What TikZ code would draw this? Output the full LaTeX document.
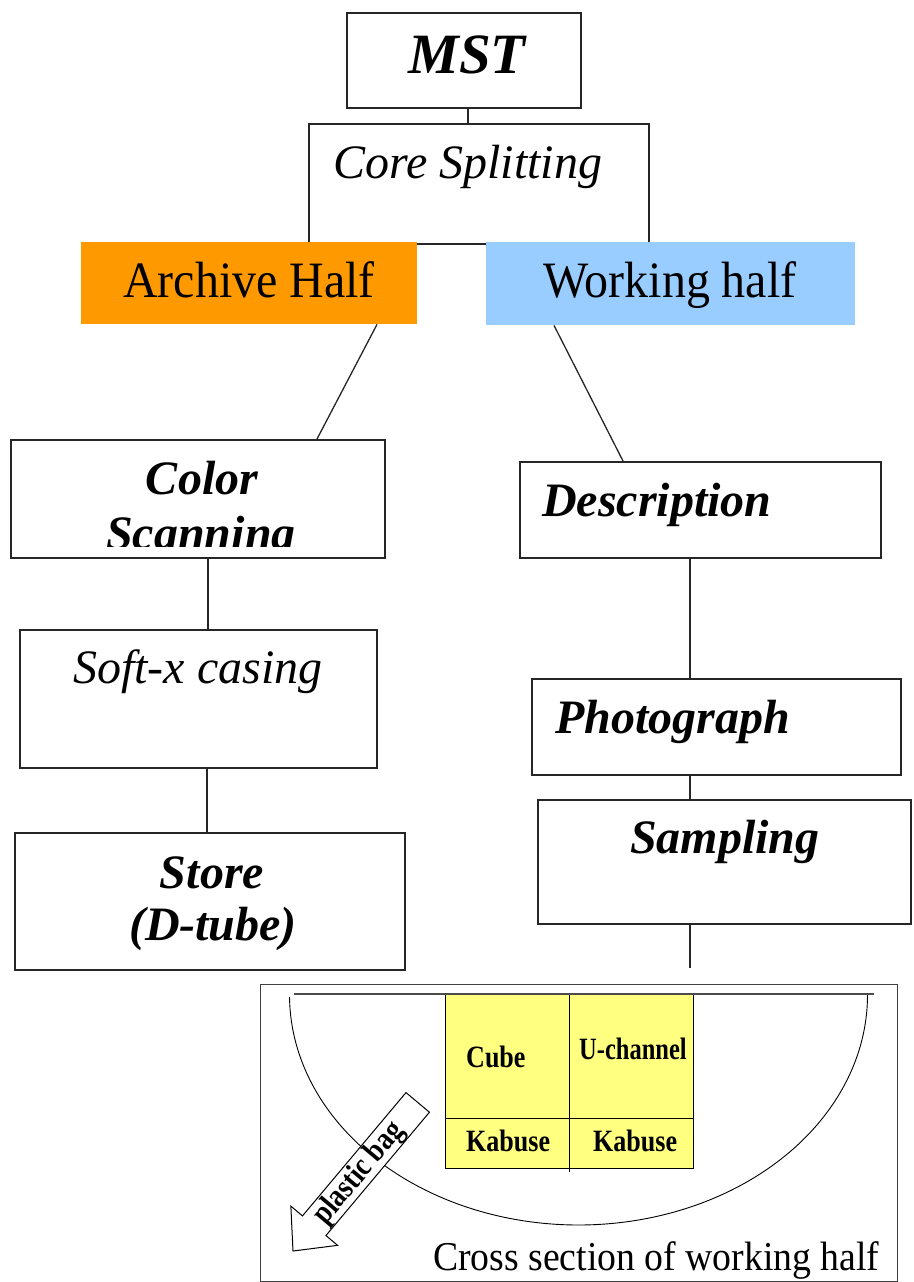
\documentclass[tikz,border=0pt]{standalone}
\usepackage{fontspec}
\setmainfont{Liberation Serif}
\newfontfamily\condfont[FakeStretch=0.94]{Liberation Serif}
\newfontfamily\narrowfont[FakeStretch=0.84]{Liberation Serif}
\newfontfamily\xnarrowfont[FakeStretch=0.79]{Liberation Serif}
\newfontfamily\crossfont[FakeStretch=0.92]{Liberation Serif}
\definecolor{archorange}{HTML}{FF9900}
\definecolor{worklblue}{HTML}{99CCFF}
\definecolor{sampyellow}{HTML}{FFFF80}
\begin{document}
\begin{tikzpicture}[x=1pt,y=-1pt,
  box/.style={draw=black!85, line width=1.6pt, inner sep=0pt, anchor=north west},
  fillbox/.style={inner sep=0pt, anchor=north west},
  link/.style={draw=black!85, line width=1.3pt},
  bi/.style={font=\fontsize{48}{56}\selectfont\bfseries\itshape, inner sep=0pt},
  itx/.style={font=\fontsize{48}{56}\selectfont\itshape, inner sep=0pt, anchor=base west},
  half/.style={font=\condfont\fontsize{51}{58}\selectfont, inner sep=0pt, anchor=base},
  cell/.style={font=\narrowfont\fontsize{31}{36}\selectfont\bfseries, inner sep=0pt, anchor=base west},
  thin/.style={draw=black, line width=0.9pt}
]
\useasboundingbox (0,0) rectangle (913,1282);

% ---- top ----
\node[box, minimum width=234pt, minimum height=95pt] (mst) at (346,12) {};
\node[bi, anchor=base, font=\fontsize{57}{64}\selectfont\bfseries\itshape] (msttxt) at (467,73) {MST};

\node[box, minimum width=340pt, minimum height=120pt] (core) at (308,123) {};
\node[itx] (coretxt) at (333,178) {Core Splitting};

\draw[link] ([xshift=122pt]mst.south west) -- ([xshift=160pt]core.north west);

\node[fillbox, fill=archorange, minimum width=336pt, minimum height=82pt] (arch) at (81,242) {};
\node[half] (archtxt) at (249,297) {Archive Half};

\node[fillbox, fill=worklblue, minimum width=369pt, minimum height=83pt] (work) at (486,242) {};
\node[half] (worktxt) at (670,297) {Working half};

% ---- left column ----
\node[box, minimum width=374pt, minimum height=118pt] (color) at (10,439) {};
\begin{scope}
  \clip (10,439) rectangle (384,546);
  \node[bi, anchor=base] (colortxt) at (202,494) {Color};
  \node[bi, anchor=base] (scantxt) at (201,549) {Scanning};
\end{scope}

\node[box, minimum width=357pt, minimum height=138pt] (soft) at (19,629) {};
\node[itx] (softtxt) at (73,683) {Soft-x casing};

\node[box, minimum width=390pt, minimum height=137pt] (store) at (14,832) {};
\node[bi, anchor=base] (storetxt) at (212,888) {Store};
\node[bi, anchor=base] (dtubetxt) at (213,940) {(D-tube)};

\draw[link] ([xshift=296pt]arch.south west) -- ([xshift=307pt]color.north west);
\draw[link] ([xshift=198pt]color.south west) -- ([xshift=189pt]soft.north west);
\draw[link] ([xshift=188pt]soft.south west) -- ([xshift=193pt]store.north west);

% ---- right column ----
\node[box, minimum width=361pt, minimum height=96pt] (desc) at (519,461) {};
\node[bi, anchor=base west] (desctxt) at (542,516) {Description};

\node[box, minimum width=369pt, minimum height=96pt] (photo) at (531,678) {};
\node[bi, anchor=base west] (phototxt) at (555,733) {Photograph};

\node[box, minimum width=373pt, minimum height=124pt] (samp) at (537,799) {};
\node[bi, anchor=base west] (samptxt) at (630,853) {Sampling};

\coordinate (sampend) at (690,968);

\draw[link] ([xshift=68pt]work.south west) -- ([xshift=104pt]desc.north west);
\draw[link] ([xshift=171pt]desc.south west) -- ([xshift=159pt]photo.north west);
\draw[link] ([xshift=159pt]photo.south west) -- ([xshift=153pt]samp.north west);
\draw[link] ([xshift=153pt]samp.south west) -- (sampend);

% ---- cross section ----
\node[fillbox, draw=black!75, line width=1.2pt, minimum width=637pt, minimum height=297pt] (frame) at (260,984) {};

\draw[thin] plot[domain=180.5:360, samples=90, smooth] ({578.5+289*cos(\x)}, {995-230*sin(\x)});

\node[fillbox, fill=sampyellow, draw=black, line width=1pt, minimum width=248pt, minimum height=174pt] (ybox) at (445,994) {};
\draw[draw=black, line width=1pt] (ybox.west |- 0,1118) -- (ybox.east |- 0,1118);
\draw[draw=black, line width=1pt] (569,994) -- (569,1172);
\draw[draw=black!70, line width=1.2pt] (294,994) -- (874,994);

\node[cell] (cubetxt) at (466,1067) {Cube};
\node[cell, font=\xnarrowfont\fontsize{31}{36}\selectfont\bfseries] (uchantxt) at (579,1059) {U-channel};
\node[cell] (kab1txt) at (466,1151) {Kabuse};
\node[cell] (kab2txt) at (593,1151) {Kabuse};

\begin{scope}[shift={(293,1251)}, rotate=50]
  \draw[draw=black, line width=1pt, fill=white]
    (0pt,0pt) -- (33pt,30.5pt) -- (33pt,15.3pt) -- (194pt,15.3pt)
    -- (194pt,-15.3pt) -- (33pt,-15.3pt) -- (33pt,-30.5pt) -- cycle;
  \node[transform shape, inner sep=0pt, font=\narrowfont\fontsize{32}{36}\selectfont\bfseries] (bagtxt) at (102pt,-1pt) {plastic bag};
\end{scope}

\node[font=\crossfont\fontsize{41}{48}\selectfont, inner sep=0pt, anchor=base west] (crosstxt) at (433,1270) {Cross section of working half};

\end{tikzpicture}
\end{document}
